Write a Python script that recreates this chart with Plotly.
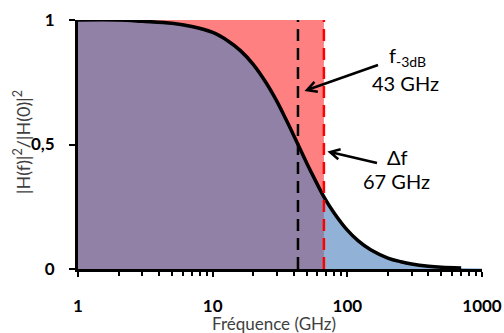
import math
import plotly.graph_objects as go

# ---- data ----
freq_ghz = [1, 2, 3, 5, 7, 10, 13, 16, 20, 25, 30, 35, 40, 43, 50, 57, 67, 80,
            100, 120, 150, 200, 250, 300, 400, 500, 700, 1000]
h_norm = [1.00, 1.00, 0.995, 0.987, 0.974, 0.95, 0.916, 0.878, 0.822, 0.747,
          0.673, 0.601, 0.536, 0.50, 0.425, 0.363, 0.29, 0.224, 0.156, 0.114,
          0.076, 0.044, 0.029, 0.02, 0.011, 0.007, 0.004, 0.002]
f_3db = 43
delta_f = 67
x_tick_vals = [1, 10, 100, 1000]
x_tick_text = ["1", "10", "100", "1000"]
y_tick_vals = [0, 0.5, 1]
y_tick_text = ["0", "0,5", "1"]

# ---- layout geometry (pixels) ----
W, H = 504, 333
L, R, T, B = 78, 22, 20, 64
PW, PH = W - L - R, H - T - B

def px2paper(px, py):
    return (px - L) / PW, (H - B - py) / PH

FONT = "Lato"

fig = go.Figure()

# red band up to delta_f
fig.add_trace(go.Scatter(x=[freq_ghz[0], delta_f, delta_f, freq_ghz[0], freq_ghz[0]],
                         y=[0, 0, 1, 1, 0], mode="lines", fill="toself",
                         fillcolor="rgb(255,128,128)", line=dict(width=0),
                         hoverinfo="skip"))
# blue area under curve
fig.add_trace(go.Scatter(x=freq_ghz, y=h_norm, mode="lines", fill="tozeroy",
                         fillcolor="rgba(79,129,189,0.62)", line=dict(width=0, shape="spline"),
                         hoverinfo="skip"))
# black curve
n_line = freq_ghz.index(700) + 1
fig.add_trace(go.Scatter(x=freq_ghz[:n_line], y=h_norm[:n_line], mode="lines",
                         line=dict(color="black", width=3.5, shape="spline")))
# dashed verticals
fig.add_trace(go.Scatter(x=[f_3db, f_3db], y=[0, 1], mode="lines",
                         line=dict(color="black", width=2.5, dash="12px,7px")))
fig.add_trace(go.Scatter(x=[delta_f, delta_f], y=[0, 1], mode="lines",
                         line=dict(color="rgb(255,0,0)", width=2.5, dash="12px,7px")))

# arrows (open chevron heads) drawn as paper paths
def arrow_path(tail, tip, head=11, ang=28):
    tx, ty = tip
    sx, sy = tail
    a = math.atan2(sy - ty, sx - tx)
    pts = []
    for s in (+1, -1):
        b = a + s * math.radians(ang)
        pts.append((tx + head * math.cos(b), ty + head * math.sin(b)))
    def P(p):
        x, y = px2paper(*p)
        return f"{x:.5f},{y:.5f}"
    return (f"M{P(tail)} L{P(tip)} M{P(pts[0])} L{P(tip)} L{P(pts[1])}")

shapes = []
for tail, tip in [((378, 65), (307, 90)), ((377, 163), (330, 152))]:
    shapes.append(dict(type="path", xref="paper", yref="paper",
                       path=arrow_path(tail, tip),
                       line=dict(color="black", width=2.5)))

annotations = []
def text_at(px, py, txt, size=20):
    x, y = px2paper(px, py)
    annotations.append(dict(x=x, y=y, xref="paper", yref="paper", text=txt,
                            showarrow=False, xanchor="center", yanchor="middle",
                            font=dict(family=FONT, size=size, color="black")))

text_at(407, 57, "f<sub>-3dB</sub>")
text_at(405, 83, "43 GHz")
text_at(397, 157, "Δf")
text_at(396, 181, "67 GHz")

# axis titles placed as annotations
xt, yt = px2paper(274, 323)
annotations.append(dict(x=xt, y=yt, xref="paper", yref="paper",
                        text="Fréquence (GHz)", showarrow=False,
                        xanchor="center", yanchor="middle",
                        font=dict(family=FONT, size=17, color="#404040")))
xt, yt = px2paper(22, 142)
annotations.append(dict(x=xt, y=yt, xref="paper", yref="paper",
                        text="|H(f)|<sup>2</sup>/|H(0)|<sup>2</sup>", showarrow=False,
                        textangle=-90, xanchor="center", yanchor="middle",
                        font=dict(family=FONT, size=18, color="#404040")))

fig.update_layout(
    width=W, height=H, margin=dict(l=L, r=R, t=T, b=B, autoexpand=False),
    paper_bgcolor="white", plot_bgcolor="white", showlegend=False,
    shapes=shapes, annotations=annotations,
    xaxis=dict(type="log", range=[0, 3], showgrid=False, zeroline=False,
               showline=True, linecolor="black", linewidth=3,
               tickvals=x_tick_vals, ticktext=x_tick_text,
               ticks="outside", ticklen=5, tickwidth=2, tickcolor="black",
               tickfont=dict(family=FONT, size=17, color="black", weight="bold"),
               minor=dict(ticks="outside", ticklen=4, tickwidth=2, tickcolor="black",
                          dtick="D1", showgrid=False),
               ticklabelstandoff=15),
    yaxis=dict(range=[0, 1], showgrid=False, zeroline=False,
               showline=True, linecolor="black", linewidth=3,
               tickvals=y_tick_vals, ticktext=y_tick_text,
               ticks="outside", ticklen=6, tickwidth=2, tickcolor="black",
               tickfont=dict(family=FONT, size=17, color="black", weight="bold"),
               ticklabelstandoff=11),
)

fig.write_html("out.html", config={"displayModeBar": False},
               post_script="document.body.style.margin='0';document.body.style.overflow='hidden';")
